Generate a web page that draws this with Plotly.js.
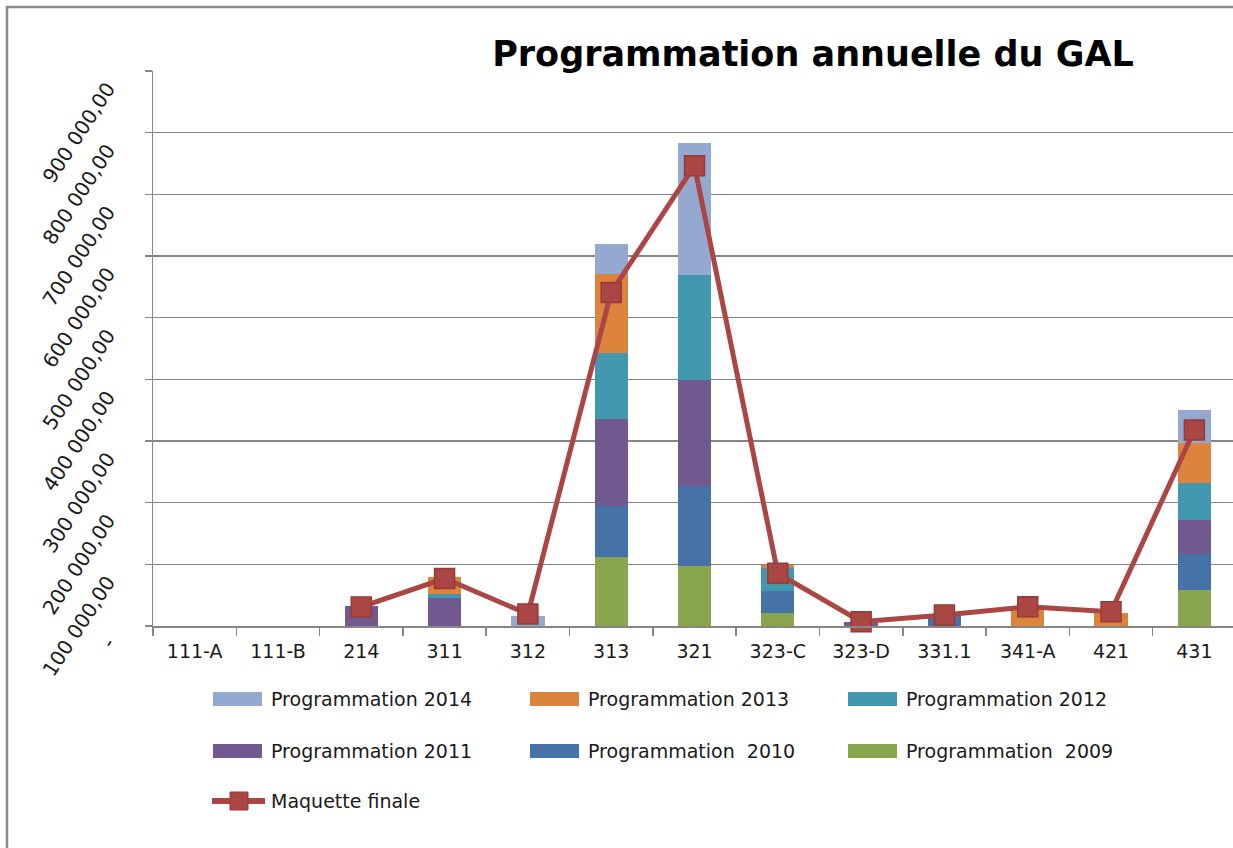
<!DOCTYPE html>
<html>
<head>
<meta charset="utf-8">
<script src="https://cdn.plot.ly/plotly-3.0.1.min.js"></script>
<style>html,body{margin:0;padding:0;overflow:hidden;background:#fff;}#chart{width:1236px;height:848px;}</style>
</head>
<body>
<div id="chart"></div>
<script>
const categories = ['111-A','111-B','214','311','312','313','321','323-C','323-D','331.1','341-A','421','431'];

const prog2009 = [0, 0, 0, 0, 0, 112000, 98000, 21600, 0, 0, 0, 0, 58400];
const prog2010 = [0, 0, 0, 0, 0, 82700, 129700, 35100, 0, 17800, 0, 0, 58900];
const prog2011 = [0, 0, 32000, 46000, 0, 140600, 171900, 0, 7000, 0, 0, 0, 55100];
const prog2012 = [0, 0, 0, 6500, 0, 107000, 169700, 37800, 0, 0, 0, 0, 59500];
const prog2013 = [0, 0, 0, 27000, 0, 128100, 0, 3800, 0, 0, 28700, 21600, 65400];
const prog2014 = [0, 0, 0, 0, 16200, 48600, 214000, 0, 0, 0, 0, 0, 53000];
const maquette = [null, null, 31000, 77000, 19500, 541000, 746400, 85400, 7000, 17800, 31300, 23200, 317800];

const seriesNames = ['Programmation  2009','Programmation  2010','Programmation 2011','Programmation 2012','Programmation 2013','Programmation 2014'];
const seriesColors = ['#89A54E','#4572A7','#71588F','#4198AF','#DB843D','#93A9CF'];
const lineName = 'Maquette finale';
const lineColor = '#AA4643';

const yTickVals = [0,100000,200000,300000,400000,500000,600000,700000,800000,900000];
const yTickText = ['-','100 000,00','200 000,00','300 000,00','400 000,00','500 000,00','600 000,00','700 000,00','800 000,00','900 000,00'];

const seriesValues = [prog2009, prog2010, prog2011, prog2012, prog2013, prog2014];

const FONT = 'DejaVu Sans';
const W = 1236, H = 848, L = 153, R = 0, T = 71, B = 222;
const PW = W - L - R, PH = H - T - B;
const px2x = px => (px - L) / PW;
const py2y = py => (H - B - py) / PH;

const traces = seriesValues.map((vals, i) => ({
  type: 'bar',
  name: seriesNames[i],
  x: categories,
  y: vals,
  marker: {color: seriesColors[i], line: {width: 0}},
  showlegend: false
}));
traces.push({
  type: 'scatter',
  mode: 'lines+markers',
  name: lineName,
  x: categories,
  y: maquette,
  line: {color: lineColor, width: 5},
  marker: {symbol: 'square', size: 20, color: lineColor, line: {color: '#973b38', width: 1.5}},
  cliponaxis: false,
  showlegend: false
});

// manual legend: order as in reference
const legendOrder = [5, 4, 3, 2, 1, 0];
const colX = [213, 530, 848];
const rowY = [699, 751, 801];
const shapes = [];
const annotations = [];
legendOrder.forEach((si, k) => {
  const cx = colX[k % 3], cy = rowY[Math.floor(k / 3)];
  shapes.push({type: 'rect', xref: 'paper', yref: 'paper',
    x0: px2x(cx), x1: px2x(cx + 49), y0: py2y(cy - 7), y1: py2y(cy + 7),
    fillcolor: seriesColors[si], line: {width: 0}});
  annotations.push({xref: 'paper', yref: 'paper', x: px2x(cx + 56), y: py2y(cy),
    xanchor: 'left', yanchor: 'middle', showarrow: false, text: seriesNames[si],
    font: {family: FONT, size: 19, color: '#1a1a1a'}});
});
// line legend entry
shapes.push({type: 'line', xref: 'paper', yref: 'paper',
  x0: px2x(212), x1: px2x(265), y0: py2y(rowY[2]), y1: py2y(rowY[2]),
  line: {color: lineColor, width: 6}});
shapes.push({type: 'rect', xref: 'paper', yref: 'paper',
  x0: px2x(230), x1: px2x(248), y0: py2y(rowY[2] - 9), y1: py2y(rowY[2] + 9),
  fillcolor: lineColor, line: {color: '#973b38', width: 1}});
annotations.push({xref: 'paper', yref: 'paper', x: px2x(269), y: py2y(rowY[2]),
  xanchor: 'left', yanchor: 'middle', showarrow: false, text: lineName,
  font: {family: FONT, size: 19, color: '#1a1a1a'}});
// outer frame (left and top edges visible)
shapes.push({type: 'line', xref: 'paper', yref: 'paper',
  x0: px2x(7), x1: px2x(7), y0: py2y(6), y1: py2y(900),
  line: {color: '#8a8a8a', width: 2.5}, layer: 'below'});
shapes.push({type: 'line', xref: 'paper', yref: 'paper',
  x0: px2x(6), x1: px2x(1400), y0: py2y(7), y1: py2y(7),
  line: {color: '#8a8a8a', width: 2.5}, layer: 'below'});

const layout = {
  width: W, height: H,
  margin: {l: L, r: R, t: T, b: B, pad: 0},
  paper_bgcolor: '#ffffff', plot_bgcolor: '#ffffff',
  barmode: 'stack', bargap: 0.6,
  title: {text: 'Programmation annuelle du GAL', x: 813 / W, xanchor: 'center',
    y: 1 - 54 / H, yanchor: 'middle', xref: 'container', yref: 'container',
    font: {family: FONT, size: 35, weight: 'bold', color: '#000000'}},
  font: {family: FONT, size: 19, color: '#1a1a1a'},
  xaxis: {type: 'category', range: [-0.5, 12.5], tickson: 'boundaries',
    ticks: 'outside', ticklen: 8, tickwidth: 1.5, tickcolor: '#868686',
    showline: true, linecolor: '#868686', linewidth: 1.5, showgrid: false,
    tickfont: {family: FONT, size: 19, color: '#1a1a1a'}, ticklabelstandoff: 8,
    fixedrange: true},
  yaxis: {range: [0, 900000], tickvals: yTickVals, ticktext: yTickText,
    tickangle: -57, ticks: 'outside', ticklen: 7, tickwidth: 1.5, tickcolor: '#868686',
    showline: true, linecolor: '#868686', linewidth: 1.5,
    showgrid: true, gridcolor: '#868686', gridwidth: 1.5, zeroline: false,
    tickfont: {family: FONT, size: 20, color: '#1a1a1a'},
    ticklabelstandoff: 33, ticklabelshift: 15, fixedrange: true},
  shapes: shapes,
  annotations: annotations,
  showlegend: false
};

Plotly.newPlot('chart', traces, layout, {displayModeBar: false, staticPlot: true});
</script>
</body>
</html>
